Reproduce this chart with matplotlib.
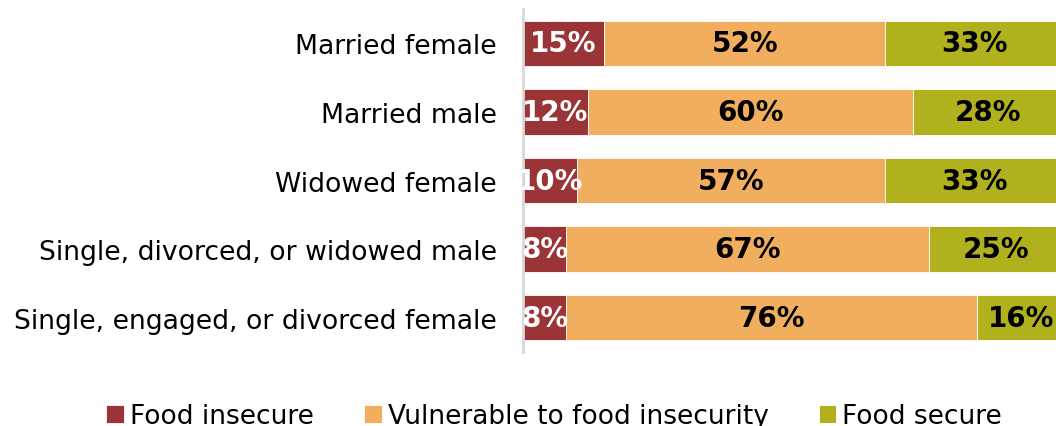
import matplotlib
matplotlib.use('Agg')
import matplotlib.pyplot as plt
import numpy as np

# household head groups, top to bottom
groups = ['Married female', 'Married male', 'Widowed female',
          'Single, divorced, or widowed male',
          'Single, engaged, or divorced female']
insecure = [15, 12, 10, 8, 8]
vulnerable = [52, 60, 57, 67, 76]
secure = [33, 28, 33, 25, 16]

series = ['Food insecure', 'Vulnerable to food insecurity', 'Food secure']
colors = ['#9b3437', '#f2ae5f', '#b0b11d']
text_colors = ['white', 'black', 'black']

plt.rcParams['font.family'] = 'DejaVu Sans'

fig = plt.figure(figsize=(10.56, 4.27), dpi=100)
ax = fig.add_axes([523 / 1056, 74 / 427, 541 / 1056, 343 / 427])

y = np.arange(len(groups))
left = np.zeros(len(groups))
for vals, name, col, tcol in zip([insecure, vulnerable, secure], series, colors, text_colors):
    vals = np.array(vals, dtype=float)
    ax.barh(y, vals, left=left, height=0.66, color=col, label=name,
            edgecolor='white', linewidth=0.6)
    for yi, l, v in zip(y, left, vals):
        ax.text(l + v / 2, yi, f'{int(v)}%', ha='center', va='center',
                fontsize=20, fontweight='bold', color=tcol)
    left += vals

ax.set_xlim(0, 100)
ax.set_ylim(len(groups) - 0.5, -0.5)
ax.set_yticks(y)
ax.set_yticklabels(groups, fontsize=19.2)
ax.tick_params(axis='y', length=0, pad=19)
ax.set_xticks([])
for s in ['top', 'right', 'bottom']:
    ax.spines[s].set_visible(False)
ax.spines['left'].set_color('#d9d9d9')
ax.spines['left'].set_linewidth(2)

# legend along the bottom edge
handles, labels = ax.get_legend_handles_labels()
fig.legend(handles, labels, loc='center', bbox_to_anchor=(554 / 1056, 1 - 417 / 427),
           ncol=3, frameon=False, fontsize=19, handlelength=0.68, handleheight=0.68,
           handletextpad=0.22, columnspacing=1.9, borderaxespad=0)

fig.savefig('out.png', dpi=100)
